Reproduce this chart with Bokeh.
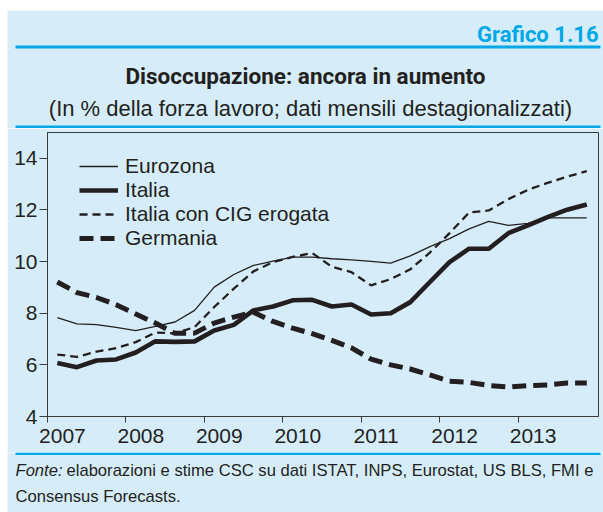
from bokeh.plotting import figure
from bokeh.layouts import column, row
from bokeh.models import (FixedTicker, CustomJSTickFormatter, Legend, LegendItem,
                          Range1d, Spacer)
from bokeh.core.properties import value
from bokeh.embed import file_html
from bokeh.resources import INLINE

# ---------------- data (quarterly, % of labour force) ----------------
years = [2007, 2008, 2009, 2010, 2011, 2012, 2013]
quarters = [1, 2, 3, 4]
eurozona = [7.83, 7.59, 7.56, 7.45, 7.33, 7.49, 7.66, 8.11,
            9.01, 9.50, 9.85, 10.02, 10.17, 10.17, 10.11, 10.07,
            10.01, 9.94, 10.22, 10.58, 10.89, 11.27, 11.56, 11.40,
            11.48, 11.69, 11.69, 11.69]
italia = [6.07, 5.91, 6.17, 6.21, 6.48, 6.91, 6.89, 6.91,
          7.33, 7.55, 8.11, 8.26, 8.50, 8.52, 8.26, 8.34,
          7.95, 8.00, 8.43, 9.21, 9.98, 10.50, 10.50, 11.10,
          11.40, 11.72, 12.01, 12.21]
italia_cig = [6.40, 6.31, 6.51, 6.65, 6.88, 7.25, 7.22, 7.46,
              8.24, 8.95, 9.62, 9.98, 10.18, 10.33, 9.80, 9.59,
              9.08, 9.32, 9.70, 10.35, 11.10, 11.90, 11.98, 12.42,
              12.78, 13.05, 13.29, 13.50]
germania = [9.21, 8.80, 8.61, 8.33, 7.97, 7.62, 7.22, 7.23,
            7.62, 7.85, 8.04, 7.68, 7.42, 7.21, 6.95, 6.66,
            6.22, 6.00, 5.84, 5.61, 5.37, 5.32, 5.20, 5.14,
            5.20, 5.22, 5.30, 5.30]
series_names = ["Eurozona", "Italia", "Italia con CIG erogata", "Germania"]
y_ticks = [4, 6, 8, 10, 12, 14]
chart_label = "Grafico 1.16"
title = "Disoccupazione: ancora in aumento"
subtitle = "(In % della forza lavoro; dati mensili destagionalizzati)"
source_label = "Fonte:"
source_line1 = "elaborazioni e stime CSC su dati ISTAT, INPS, Eurostat, US BLS, FMI e"
source_line2 = "Consensus Forecasts."

x = [yr + (q - 0.5) / 4 for yr in years for q in quarters]

# ---------------- styling ----------------
PW = 596           # panel width (page x 7 .. 603)
BG = "#d6edf9"
BLUE = "#00a8e6"
INK = "#231f20"
AX = "#3a3a3a"
FONT = "Liberation Sans"
BOLD = "Roboto"
LABEL_SHIFT = 0.19


def blank(h):
    f = figure(width=PW, height=h, x_range=Range1d(0, PW), y_range=Range1d(h, 0),
               output_backend="svg", toolbar_location=None, min_border=0,
               x_axis_location=None, y_axis_location=None, frame_align=False,
               background_fill_color=BG, border_fill_color=BG, outline_line_color=None)
    f.grid.visible = False
    return f


def txt(f, s, fx, fy, size, style="normal", align="left", font=FONT, color=INK):
    f.text(x=[fx], y=[fy], text=[s], text_font=value(font), text_font_size=size,
           text_font_style=style, text_align=align, text_baseline="alphabetic",
           text_color=color)


def rule(f, top, bottom):
    f.quad(left=[8], right=[593], top=[top], bottom=[bottom],
           fill_color=BLUE, line_color=None)


# ---------------- header ----------------
header = blank(118)
txt(header, chart_label, 591, 24, "22px", "bold", "right", BOLD, BLUE)
rule(header, 35, 38)
txt(header, title, 298, 65, "22.5px", "bold", "center", BOLD)
txt(header, subtitle, 303, 98, "22px", "normal", "center")
rule(header, 115, 118)

# ---------------- chart ----------------
p = figure(width=PW, height=324, output_backend="svg", toolbar_location=None,
           x_range=Range1d(2007, 2014.024), y_range=Range1d(4, 15),
           min_border_left=40, min_border_right=5, min_border_top=4,
           min_border_bottom=36, frame_align=False,
           background_fill_color=BG, border_fill_color=BG)
p.outline_line_color = AX
p.outline_line_width = 1
p.xgrid.visible = False
p.ygrid.visible = False

p.xaxis.ticker = FixedTicker(ticks=[yr + LABEL_SHIFT for yr in years], minor_ticks=years)
p.xaxis.formatter = CustomJSTickFormatter(code="return String(Math.round(tick - 0.19))")
p.xaxis.major_tick_out = 0
p.xaxis.major_tick_in = 0
p.xaxis.minor_tick_out = 6
p.xaxis.minor_tick_in = 0
p.xaxis.minor_tick_line_color = AX
p.xaxis.axis_line_color = AX
p.xaxis.major_label_standoff = 6
p.xaxis.major_label_text_font = FONT
p.xaxis.major_label_text_font_size = "21px"
p.xaxis.major_label_text_color = INK

p.yaxis.ticker = FixedTicker(ticks=y_ticks)
p.yaxis.major_tick_out = 8
p.yaxis.major_tick_in = 0
p.yaxis.minor_tick_line_color = None
p.yaxis.major_tick_line_color = AX
p.yaxis.axis_line_color = AX
p.yaxis.major_label_standoff = 2
p.yaxis.major_label_text_font = FONT
p.yaxis.major_label_text_font_size = "21px"
p.yaxis.major_label_text_color = INK

r_e = p.line(x, eurozona, line_color=INK, line_width=1.3, line_join="round")
r_c = p.line(x, italia_cig, line_color=INK, line_width=2.3, line_dash="8 5")
r_g = p.line(x, germania, line_color=INK, line_width=5, line_dash="14 7")
r_i = p.line(x, italia, line_color=INK, line_width=4.6, line_join="round")

legend = Legend(items=[LegendItem(label=n, renderers=[r]) for n, r in
                       zip(series_names, [r_e, r_i, r_c, r_g])],
                location=(32, 166), orientation="vertical", padding=0, margin=0,
                spacing=0, glyph_width=39, glyph_height=24, label_height=24,
                label_standoff=7, label_text_font=FONT, label_text_font_size="21px",
                label_text_color=INK, background_fill_alpha=0, border_line_alpha=0)
p.add_layout(legend)

# ---------------- footer ----------------
footer = blank(60)
rule(footer, 0, 2.5)
txt(footer, source_label, 8, 18, "16.6px", "italic")
txt(footer, source_line1, 59, 18, "16.6px")
txt(footer, source_line2, 8, 44, "16.6px")

layout = column(Spacer(width=603, height=10),
                row(Spacer(width=7, height=502), column(header, p, footer)))

open("out.html", "w").write(file_html(layout, INLINE))
